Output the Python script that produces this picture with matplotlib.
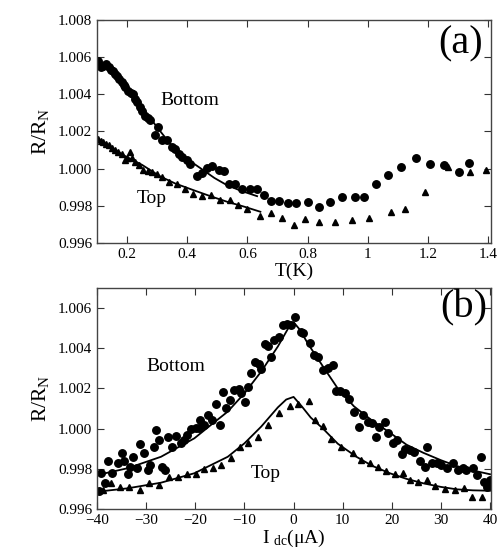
import matplotlib
matplotlib.use("Agg")
import matplotlib.pyplot as plt

plt.rcParams['font.family'] = ['Liberation Serif', 'DejaVu Serif']
plt.rcParams['mathtext.fontset'] = 'custom'
plt.rcParams['mathtext.rm'] = 'Liberation Serif'
plt.rcParams['mathtext.it'] = 'Liberation Serif:italic'

# panel (a): R/RN vs temperature
t_bottom = [0.104, 0.112, 0.121, 0.13, 0.138, 0.146, 0.154, 0.16, 0.166, 0.174,
            0.182, 0.188, 0.193, 0.204, 0.212, 0.219, 0.226, 0.232, 0.243, 0.25,
            0.26, 0.268, 0.277, 0.293, 0.304, 0.316, 0.332, 0.349, 0.36, 0.371,
            0.382, 0.399, 0.41, 0.432, 0.449, 0.466, 0.482, 0.504, 0.521, 0.538,
            0.56, 0.582, 0.608, 0.632, 0.654, 0.679, 0.704, 0.734, 0.763, 0.801,
            0.838, 0.873, 0.913, 0.958, 0.986, 1.027, 1.068, 1.112, 1.159, 1.207,
            1.254, 1.302, 1.338]
r_bottom = [1.00581, 1.00545, 1.00554, 1.00563, 1.00545, 1.0053, 1.00528, 1.0051, 1.005, 1.00482,
            1.00465, 1.00452, 1.00438, 1.0042, 1.00405, 1.00403, 1.00375, 1.00358, 1.00331, 1.0031,
            1.00286, 1.00275, 1.0026, 1.00179, 1.00224, 1.00152, 1.00152, 1.00116, 1.00105, 1.00081,
            1.00063, 1.00045, 1.00027, 0.99962, 0.99974, 1.00005, 1.00013, 0.99995, 0.99985, 0.9992,
            0.9992, 0.99893, 0.99893, 0.99888, 0.99857, 0.99827, 0.99825, 0.99813, 0.99813, 0.99822,
            0.99795, 0.99822, 0.99845, 0.99848, 0.99848, 0.9992, 0.99968, 1.00009, 1.0006, 1.00024,
            1.00018, 0.99982, 1.0003]

t_top = [0.104, 0.112, 0.121, 0.13, 0.14, 0.15, 0.16, 0.171, 0.182, 0.193,
         0.2, 0.208, 0.215, 0.227, 0.24, 0.254, 0.268, 0.282, 0.3, 0.316,
         0.338, 0.366, 0.393, 0.419, 0.449, 0.479, 0.51, 0.543, 0.568, 0.599,
         0.641, 0.677, 0.716, 0.754, 0.793, 0.838, 0.89, 0.949, 1.004, 1.077,
         1.124, 1.19, 1.266, 1.341, 1.393]
r_top = [1.00161, 1.0015, 1.00143, 1.00135, 1.00125, 1.00112, 1.00099, 1.0009, 1.00081, 1.00045,
         1.0006, 1.0009, 1.00055, 1.00036, 1.0002, 0.99991, 0.99985, 0.99982, 0.9997, 0.99956,
         0.99929, 0.9992, 0.99893, 0.99866, 0.99852, 0.99857, 0.9983, 0.9983, 0.99804, 0.99782,
         0.99745, 0.99763, 0.99732, 0.99698, 0.99727, 0.99713, 0.99714, 0.99723, 0.99736, 0.99768,
         0.99782, 0.99872, 1.00009, 0.99981, 0.99995]

fit_t_bottom = [0.1, 0.15, 0.205, 0.25, 0.299, 0.335, 0.371, 0.41, 0.454, 0.49, 0.532, 0.58, 0.632]
fit_r_bottom = [1.0059, 1.0051, 1.0042, 1.0033, 1.00224, 1.0015, 1.00081, 1.0004, 0.99991, 0.9995,
                0.99911, 0.9988, 0.99852]
fit_t_top = [0.1, 0.188, 0.25, 0.31, 0.36, 0.421, 0.48, 0.532, 0.59, 0.643]
fit_r_top = [1.00163, 1.00072, 1.0002, 0.99958, 0.9992, 0.99884, 0.9985, 0.99822, 0.99795, 0.99768]

# panel (b): R/RN vs dc current
i_bottom = [-39.7, -39.2, -38.4, -37.8, -36.9, -35.8, -35.0, -34.5, -33.8, -33.3,
            -32.6, -31.8, -31.2, -30.5, -29.7, -29.2, -28.5, -28.0, -27.3, -26.7,
            -26.2, -25.5, -24.8, -23.9, -23.0, -22.4, -21.6, -20.8, -19.9, -19.2,
            -19.0, -18.2, -17.4, -16.7, -15.8, -15.0, -14.4, -13.8, -12.9, -12.1,
            -11.2, -10.7, -9.9, -9.3, -8.6, -7.9, -7.1, -6.6, -5.8, -5.2,
            -4.5, -3.9, -2.9, -2.2, -1.3, -0.5, 0.2, 1.6, 2.0, 3.3,
            4.1, 5.0, 6.0, 7.0, 8.0, 8.7, 9.5, 10.4, 11.3, 12.3,
            13.3, 14.1, 15.2, 15.9, 16.7, 17.4, 18.6, 19.3, 20.3, 21.1,
            22.0, 22.7, 23.7, 24.5, 25.7, 26.7, 27.2, 28.1, 29.1, 30.1,
            31.2, 32.5, 33.5, 34.4, 35.2, 36.5, 37.3, 38.1, 38.8, 39.3, 39.9]
r_bottom_i = [0.99688, 0.99778, 0.99731, 0.9984, 0.99778, 0.99828, 0.99881, 0.9984, 0.99774, 0.99811,
              0.99858, 0.99803, 0.99924, 0.99877, 0.99794, 0.99819, 0.9991, 0.99994, 0.99944, 0.99811,
              0.99794, 0.99957, 0.9991, 0.99964, 0.99927, 0.99944, 0.99969, 0.99997, 1.00002, 1.00002,
              1.00043, 1.00019, 1.00068, 1.00043, 1.00123, 1.00019, 1.0018, 1.00102, 1.00143, 1.00193,
              1.00196, 1.00176, 1.00135, 1.00205, 1.00276, 1.00334, 1.00322, 1.00296, 1.00422, 1.00409,
              1.00359, 1.00442, 1.00458, 1.00517, 1.00522, 1.00517, 1.00555, 1.00483, 1.00475, 1.00426,
              1.00367, 1.00359, 1.00293, 1.00301, 1.00317, 1.00189, 1.00185, 1.00176, 1.00147, 1.00085,
              1.0001, 1.00068, 1.00035, 1.0003, 0.9996, 1.0001, 1.00035, 0.99977, 0.99927, 0.99944,
              0.99874, 0.99897, 0.99894, 0.99886, 0.9984, 0.99811, 0.9991, 0.99828, 0.99828, 0.99819,
              0.99803, 0.99828, 0.99794, 0.99803, 0.99794, 0.99803, 0.99769, 0.99861, 0.99736, 0.99711, 0.99744]

i_top = [-39.8, -38.9, -37.2, -35.3, -33.5, -31.2, -29.4, -27.4, -25.3, -23.6,
         -21.6, -19.9, -18.2, -16.5, -14.8, -12.7, -11.0, -9.3, -7.3, -5.2,
         -2.9, -0.8, 0.9, 3.1, 4.3, 6.0, 7.7, 9.7, 12.0, 13.8,
         15.5, 17.2, 18.9, 20.6, 22.3, 23.7, 25.4, 27.1, 28.8, 30.8,
         32.9, 34.6, 36.3, 38.3]
r_top_i = [0.99691, 0.99694, 0.99728, 0.99708, 0.99708, 0.99695, 0.99731, 0.9972, 0.99761, 0.99758,
           0.99774, 0.99774, 0.99798, 0.99803, 0.99819, 0.99853, 0.9991, 0.9993, 0.9996, 1.00019,
           1.00077, 1.00113, 1.00123, 1.00138, 1.00043, 1.00014, 0.99947, 0.9991, 0.99878, 0.99844,
           0.99828, 0.99811, 0.99791, 0.99774, 0.99781, 0.99744, 0.99736, 0.99744, 0.99715, 0.99698,
           0.99695, 0.99703, 0.99661, 0.99661]

fit_i_bottom = [-40, -33.8, -27, -20.2, -16.8, -13.4, -10, -6.6, -3.2, -1.2, 0, 1.2, 3, 6,
                9, 12.3, 16, 19.6, 23, 26.4, 30, 33.2, 36.5, 40]
fit_r_bottom_i = [0.99769, 0.99803, 0.9986, 0.99952, 1.00019, 1.00085, 1.00176, 1.00284, 1.00409,
                  1.00495, 1.0053, 1.00495, 1.0042, 1.00309, 1.002, 1.00111, 1.0004, 0.9998, 0.9992,
                  0.9988, 0.99843, 0.99814, 0.99792, 0.99773]
fit_i_top = [-40, -33.8, -27, -20.2, -13.4, -10, -6.6, -3.2, -1.5, 0, 1.7, 3.5, 6,
             9, 12.8, 16, 19.6, 23, 26.4, 30, 33.2, 36.5, 40]
fit_r_top_i = [0.99686, 0.99703, 0.99731, 0.99778, 0.9986, 0.99927, 1.0001, 1.00106, 1.00145,
               1.00158, 1.0011, 1.00055, 1.0, 0.99925, 0.9986, 0.99815, 0.99778, 0.9975, 0.99728,
               0.9971, 0.99698, 0.99693, 0.99691]

t_ticks = [0.2, 0.4, 0.6, 0.8, 1.0, 1.2, 1.4]
t_ticklabels = ['0.2', '0.4', '0.6', '0.8', '1', '1.2', '1.4']
ra_ticks = [0.996, 0.998, 1.000, 1.002, 1.004, 1.006, 1.008]
i_ticks = [-40, -30, -20, -10, 0, 10, 20, 30, 40]
rb_ticks = [0.996, 0.998, 1.000, 1.002, 1.004, 1.006]


def style_axes(ax):
    ax.tick_params(direction='in', top=True, right=True, length=5, width=0.8,
                   labelsize=11, colors='#333333', labelcolor='black')
    for s in ax.spines.values():
        s.set_color('#444444')
        s.set_linewidth(1.0)


fig = plt.figure(figsize=(4.98, 5.54), dpi=100)
ax1 = fig.add_axes([0.195, 0.5614, 0.791, 0.4025])
ax2 = fig.add_axes([0.195, 0.0812, 0.791, 0.3989])

ax1.plot(t_bottom, r_bottom, 'o', color='black', ms=5.4)
ax1.plot(t_top, r_top, '^', color='black', ms=4.8)
ax1.plot(fit_t_bottom, fit_r_bottom, '-', color='black', lw=1.3)
ax1.plot(fit_t_top, fit_r_top, '-', color='black', lw=1.3)
ax1.set_xlim(0.1, 1.41)
ax1.set_ylim(0.996, 1.008)
ax1.set_xticks(t_ticks)
ax1.set_xticklabels(t_ticklabels)
ax1.set_yticks(ra_ticks)
ax1.set_yticklabels(['%.3f' % v for v in ra_ticks])
ax1.set_xlabel('T(K)', fontsize=14, labelpad=1)
ax1.set_ylabel(r'R/R$_{\rm N}$', fontsize=15.5, labelpad=5)
ax1.text(0.41, 1.00367, 'Bottom', fontsize=14, ha='center', va='center')
ax1.text(0.282, 0.9984, 'Top', fontsize=14, ha='center', va='center')
ax1.text(0.98, 0.895, '(a)', fontsize=29, ha='right', va='center', transform=ax1.transAxes)
style_axes(ax1)

ax2.plot(i_bottom, r_bottom_i, 'o', color='black', ms=5.4)
ax2.plot(i_top, r_top_i, '^', color='black', ms=4.8)
ax2.plot(fit_i_bottom, fit_r_bottom_i, '-', color='black', lw=1.3)
ax2.plot(fit_i_top, fit_r_top_i, '-', color='black', lw=1.3)
ax2.set_xlim(-40, 40.2)
ax2.set_ylim(0.996, 1.007)
ax2.set_xticks(i_ticks)
ax2.set_yticks(rb_ticks)
ax2.set_yticklabels(['%.3f' % v for v in rb_ticks])
ax2.set_xlabel(r'I $_{\rm dc}$(μA)', fontsize=14, labelpad=1)
ax2.set_ylabel(r'R/R$_{\rm N}$', fontsize=15.5, labelpad=5)
ax2.text(-23.9, 1.00309, 'Bottom', fontsize=14, ha='center', va='center')
ax2.text(-5.6, 0.99778, 'Top', fontsize=14, ha='center', va='center')
ax2.text(0.99, 0.91, '(b)', fontsize=29, ha='right', va='center', transform=ax2.transAxes)
style_axes(ax2)

fig.savefig('out.png', dpi=100)
